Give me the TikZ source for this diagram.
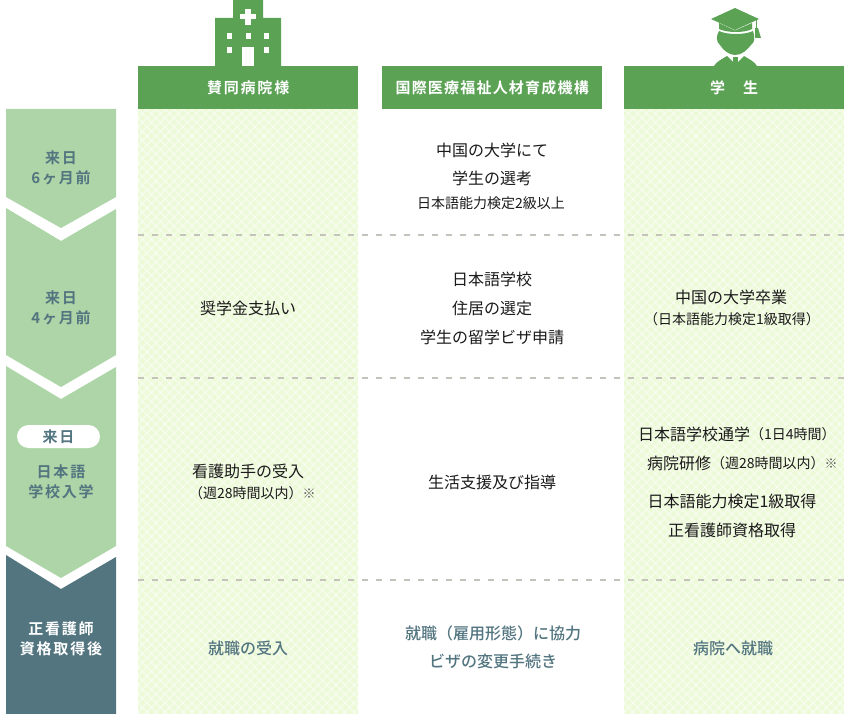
\documentclass[tikz,border=0pt]{standalone}
\usepackage{fontspec}
\setmainfont{Noto Sans CJK JP}
\newfontfamily\medjp{Noto Sans CJK JP Medium}
\newfontfamily\boldjpf{Noto Sans CJK JP Bold}
\definecolor{hdr}{HTML}{5BA255}
\definecolor{chev}{HTML}{ADD5A8}
\definecolor{dark}{HTML}{537580}
\definecolor{tint}{HTML}{EDFAD8}
\definecolor{dashc}{HTML}{C4C4BC}
\definecolor{ink}{HTML}{1A1A1A}
\newcommand{\trackfont}[1]{\fontsize{#1}{20}\boldjpf\addfontfeature{LetterSpace=12}\selectfont}
\newcommand{\refmark}{{\fontsize{13}{13}\selectfont\color{ink!70}※}}
\tikzset{
 hdrbox/.style={fill=hdr,draw=none,minimum width=220pt,minimum height=43pt,inner sep=0pt,text=white,anchor=north west},
 chevshape/.style={fill=chev,draw=none},
 darkshape/.style={fill=dark,draw=none},
 stagetxt/.style={text=dark,font=\trackfont{15},align=center,inner sep=0pt},
 body/.style={text=ink,font=\fontsize{16}{16}\selectfont,inner sep=0pt},
 small/.style={text=ink,font=\fontsize{14}{14}\selectfont,inner sep=0pt},
 tealt/.style={text=dark,font=\fontsize{16}{16}\medjp\selectfont,inner sep=0pt},
 sep/.style={draw=dashc,line width=1.3pt,dash pattern=on 5.5pt off 8.5pt},
}
\begin{document}
\begin{tikzpicture}[x=1pt,y=-1pt]
\useasboundingbox (0,0) rectangle (844,714);
% tinted columns
\foreach \xa in {138,624}{
 \begin{scope}
  \clip (\xa,109) rectangle ++(220,605);
  \fill[tint] (\xa,109) rectangle ++(220,605);
  \foreach \k in {-70,...,95}{
   \draw[white,line width=1.4pt,opacity=.55] ({\xa+\k*9},109) -- ++(605,605);
   \draw[white,line width=1.4pt,opacity=.55] ({\xa+\k*9},109) -- ++(-605,605);
  }
 \end{scope}
}
% separators
\coordinate (s1a) at (138,235); \coordinate (s1b) at (844,235);
\coordinate (s2a) at (138,378); \coordinate (s2b) at (844,378);
\coordinate (s3a) at (138,580); \coordinate (s3b) at (844,580);
\draw[sep] (s1a) -- (s1b);
\draw[sep] (s2a) -- (s2b);
\draw[sep] (s3a) -- (s3b);
% hospital icon
\fill[hdr] (215,66) -- (215,18) -- (233,18) -- (233,0) -- (263,0) -- (263,18) -- (281,18) -- (281,66) -- cycle;
\fill[white] (245,9) rectangle (251,25);
\fill[white] (240,14.5) rectangle (256,19.5);
\foreach \px/\py in {227/33.5,245.5/33.5,264/33.5,227/47,264/47}{\fill[white] (\px,\py) rectangle ++(5,6);}
\fill[white] (242,47) rectangle (254,66);
% student icon
\fill[hdr] (711,19) -- (735,8) -- (759,19) -- (735,30) -- cycle;
\fill[hdr] (719,23) -- (719,29) .. controls (727,33) and (745,33) .. (752,29) -- (752,23) -- (735,30.5) -- cycle;
\fill[hdr] (755.5,20) rectangle (757,30);
\fill[hdr] (755,28) -- (758,28) -- (761,38) -- (755,38) -- cycle;
\fill[hdr] (719,31) .. controls (727,35) and (745,35) .. (753,31) .. controls (755,36) and (755,43) .. (751,45) .. controls (747,50) and (742,55) .. (735,55) .. controls (729,55) and (723,50) .. (720,45) .. controls (716,42) and (716,36) .. (719,31) -- cycle;
\fill[hdr] (714,66) .. controls (716,62) and (722,59) .. (727,56) -- (733,62) -- (733,66) -- cycle;
\fill[hdr] (757,66) .. controls (755,62) and (749,59) .. (744,56) -- (738,62) -- (738,66) -- cycle;
\fill[hdr] (733,57) rectangle (738,66);
% headers
\node[hdrbox,font=\trackfont{15}] (h1) at (138,66) {賛同病院様};
\node[hdrbox,font=\fontsize{15}{15}\boldjpf\addfontfeature{LetterSpace=8}\selectfont] (h2) at (382,66) {国際医療福祉人材育成機構};
\node[hdrbox,font=\trackfont{15}] (h3) at (624,66) {学\hspace{1.2em}生};
% chevrons
\path[chevshape] (6,109) -- (116,109) -- (116,197) -- (61,228) -- (6,197) -- cycle;
\path[chevshape] (6,208) -- (61,241) -- (116,209) -- (116,355) -- (61,387) -- (6,355) -- cycle;
\path[chevshape] (6,366) -- (61,399) -- (116,367) -- (116,546) -- (61,578) -- (6,546) -- cycle;
\path[darkshape] (6,555) -- (61,589) -- (116,557) -- (116,714) -- (6,714) -- cycle;
\node[stagetxt] (st1) at (61,167.5) {来日\\6ヶ月前};
\node[stagetxt] (st2) at (61,307.5) {来日\\4ヶ月前};
\node[fill=white,rounded corners=11.5pt,minimum width=83pt,minimum height=23pt,inner sep=0pt,text=dark,font=\trackfont{15}] (st3a) at (58.5,436.5) {来日};
\node[stagetxt] (st3) at (61,482) {日本語\\学校入学};
\node[stagetxt,text=white] (st4) at (61,639) {正看護師\\資格取得後};
% rows
\node[body] (a2) at (248,308) {奨学金支払い};
\node[body] (a3a) at (248,471) {看護助手の受入};
\node[small,anchor=west] (a3b) at (189,493) {（週28時間以内）\refmark};
\node[tealt] (a4) at (248,648) {就職の受入};
\node[body] (b1a) at (492,150) {中国の大学にて};
\node[body] (b1b) at (492,178) {学生の選考};
\node[small] (b1c) at (491,203) {日本語能力検定2級以上};
\node[body] (b2a) at (492,279) {日本語学校};
\node[body] (b2b) at (492,308) {住居の選定};
\node[body] (b2c) at (492,337) {学生の留学ビザ申請};
\node[body] (b3) at (492,482) {生活支援及び指導};
\node[tealt] (b4a) at (493,633) {就職（雇用形態）に協力};
\node[tealt] (b4b) at (493,661) {ビザの変更手続き};
\node[body] (c2a) at (731,297) {中国の大学卒業};
\node[small] (c2b) at (732,319) {（日本語能力検定1級取得）};
\node[body,anchor=west] (c3a) at (638,434) {日本語学校通学};
\node[small,anchor=west] (c3a2) at (750,434) {（1日4時間）};
\node[body,anchor=west] (c3b) at (647,463) {病院研修};
\node[small,anchor=west] (c3b2) at (711,463) {（週28時間以内）\refmark};
\node[body] (c3c) at (732,501) {日本語能力検定1級取得};
\node[body] (c3d) at (732,530) {正看護師資格取得};
\node[tealt] (c4) at (733,648) {病院へ就職};
\end{tikzpicture}
\end{document}
